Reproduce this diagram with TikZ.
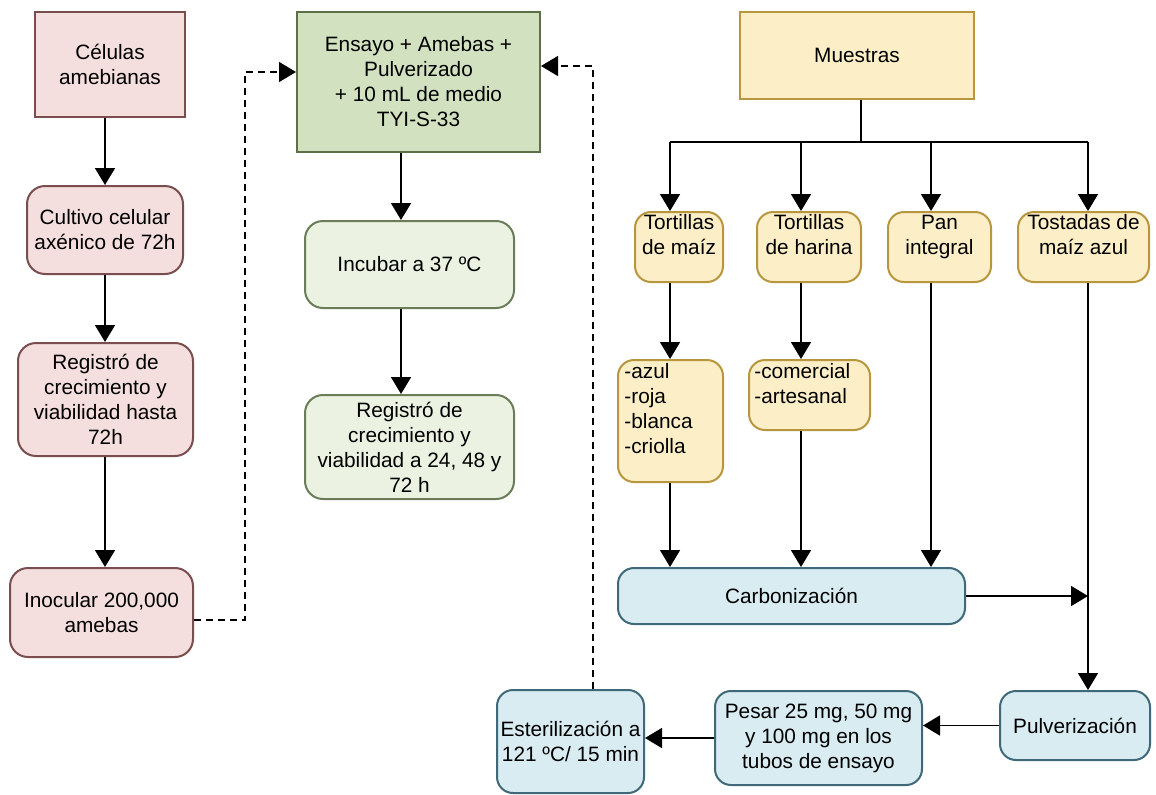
\documentclass[tikz,border=0pt]{standalone}
\usepackage{fontspec}
\setmainfont{Liberation Sans}
\usetikzlibrary{arrows.meta}
\definecolor{pinkF}{HTML}{F5DEDE}
\definecolor{pinkD}{HTML}{7A4E4E}
\definecolor{grnF}{HTML}{D2E2C0}
\definecolor{grnD}{HTML}{5C7048}
\definecolor{lgrnF}{HTML}{ECF2E2}
\definecolor{lgrnD}{HTML}{6A7D58}
\definecolor{yelF}{HTML}{FCEFC8}
\definecolor{yelD}{HTML}{B8963E}
\definecolor{bluF}{HTML}{D8ECF2}
\definecolor{bluD}{HTML}{3F6878}
\newcommand{\mybox}[7]{\node[#1, minimum width={(#5-#3)*0.5pt}, minimum height={(#6-#4)*0.5pt}] (#2) at ({(#3+#5)/2},{(#4+#6)/2}) {#7};}
\tikzset{
  base/.style={draw, line width=1pt, align=center, inner sep=1pt, font=\fontsize{10.4}{12.5}\selectfont, text=black},
  txt/.style={inner sep=0pt, align=left, font=\fontsize{10.4}{12.5}\selectfont, text=black},
  pinkS/.style={base, fill=pinkF, draw=pinkD},
  pinkR/.style={pinkS, rounded corners=9pt},
  grnS/.style={base, fill=grnF, draw=grnD},
  lgrnR/.style={base, fill=lgrnF, draw=lgrnD, rounded corners=9pt},
  yelS/.style={base, fill=yelF, draw=yelD},
  yelR/.style={yelS, rounded corners=8pt},
  bluR/.style={base, fill=bluF, draw=bluD, rounded corners=8pt},
  arr/.style={line width=0.8pt, -{Triangle[length=8.5pt,width=10pt]}},
  ln/.style={line width=0.8pt},
  dsh/.style={line width=0.7pt, dash pattern=on 3.5pt off 2.5pt},
  dsharr/.style={dsh, -{Triangle[length=8.5pt,width=10pt]}}
}
\begin{document}
\begin{tikzpicture}[x=0.5pt,y=-0.5pt]
\fill[white] (0,0) rectangle (1156,794);
\useasboundingbox (0,0) rectangle (1156,794);
% left column
\mybox{pinkS}{cel}{35}{12}{185}{117}{Células\\amebianas}
\mybox{pinkR}{cult}{27}{186}{183}{274}{Cultivo celular\\axénico de 72h}
\mybox{pinkR}{regA}{18}{343}{193}{456}{Registró de\\crecimiento y\\viabilidad hasta\\72h}
\mybox{pinkR}{inoc}{10}{568}{193}{657}{Inocular 200,000\\amebas}
% middle column
\mybox{grnS}{ens}{297}{12}{540}{152}{Ensayo + Amebas +\\Pulverizado\\+ 10 mL de medio\\TYI-S-33}
\mybox{lgrnR}{inc}{305}{221}{514}{308}{Incubar a 37 ºC}
\mybox{lgrnR}{regB}{305}{395}{514}{499}{Registró de\\crecimiento y\\viabilidad a 24, 48 y\\72 h}
% right part
\mybox{yelS}{mue}{740}{12}{974}{99}{Muestras}
\mybox{yelR}{tA}{635}{212}{723}{282}{Tortillas\\de maíz\\ \mbox{}}
\mybox{yelR}{tB}{757}{212}{861}{282}{Tortillas\\de harina\\ \mbox{}}
\mybox{yelR}{tC}{888}{212}{991}{282}{Pan\\integral\\ \mbox{}}
\mybox{yelR}{tD}{1018}{212}{1149}{282}{Tostadas de\\maíz azul\\ \mbox{}}
\mybox{yelR}{lA}{618}{360}{723}{482}{}
\node[txt, anchor=north west] (lAt) at (624,363) {-azul\\-roja\\-blanca\\-criolla};
\mybox{yelR}{lB}{749}{360}{870}{430}{}
\node[txt, anchor=north west] (lBt) at (754,363) {-comercial\\-artesanal};
\mybox{bluR}{carb}{618}{568}{965}{624}{Carbonización}
\mybox{bluR}{pulv}{1000}{691}{1150}{760}{Pulverización}
\mybox{bluR}{pes}{715}{691}{922}{785}{Pesar 25 mg, 50 mg\\y 100 mg en los\\tubos de ensayo}
\mybox{bluR}{est}{497}{690}{644}{793}{Esterilización a\\121 ºC/ 15 min}
% coordinates
\coordinate (cL) at (105,0);
\coordinate (cG) at (401,0);
\coordinate (dL) at (245,72);
\coordinate (dR) at (593,66);
\coordinate (bus) at (861,142);
\coordinate (b1) at (670,142);
\coordinate (b2) at (801,142);
\coordinate (b3) at (931,142);
\coordinate (b4) at (1088,142);
% left arrows
\draw[arr] (cel.south -| cL) -- (cult.north -| cL);
\draw[arr] (cult.south -| cL) -- (regA.north -| cL);
\draw[arr] (regA.south -| cL) -- (inoc.north -| cL);
\draw[dsharr] (inoc.east |- 0,620) -| (dL) -- (ens.west |- dL);
% middle arrows
\draw[arr] (ens.south -| cG) -- (inc.north -| cG);
\draw[arr] (inc.south -| cG) -- (regB.north -| cG);
\draw[dsharr] (est.north -| dR) -- (dR) -- (ens.east |- dR);
% right arrows
\draw[ln] (mue.south -| bus) -- (bus);
\draw[ln] (b1) -- (b4);
\draw[arr] (b1) -- (tA.north -| b1);
\draw[arr] (b2) -- (tB.north -| b2);
\draw[arr] (b3) -- (tC.north -| b3);
\draw[arr] (b4) -- (tD.north -| b4);
\draw[arr] (tA.south -| b1) -- (lA.north -| b1);
\draw[arr] (tB.south -| b2) -- (lB.north -| b2);
\draw[arr] (lA.south -| b1) -- (carb.north -| b1);
\draw[arr] (lB.south -| b2) -- (carb.north -| b2);
\draw[arr] (tC.south -| b3) -- (carb.north -| b3);
\draw[arr] (tD.south -| b4) -- (pulv.north -| b4);
\draw[arr] (carb.east) -- (carb.east -| b4);
\draw[arr] (pulv.west) -- (pes.east |- pulv.west);
\draw[arr] (pes.west) -- (est.east |- pes.west);
\end{tikzpicture}
\end{document}
